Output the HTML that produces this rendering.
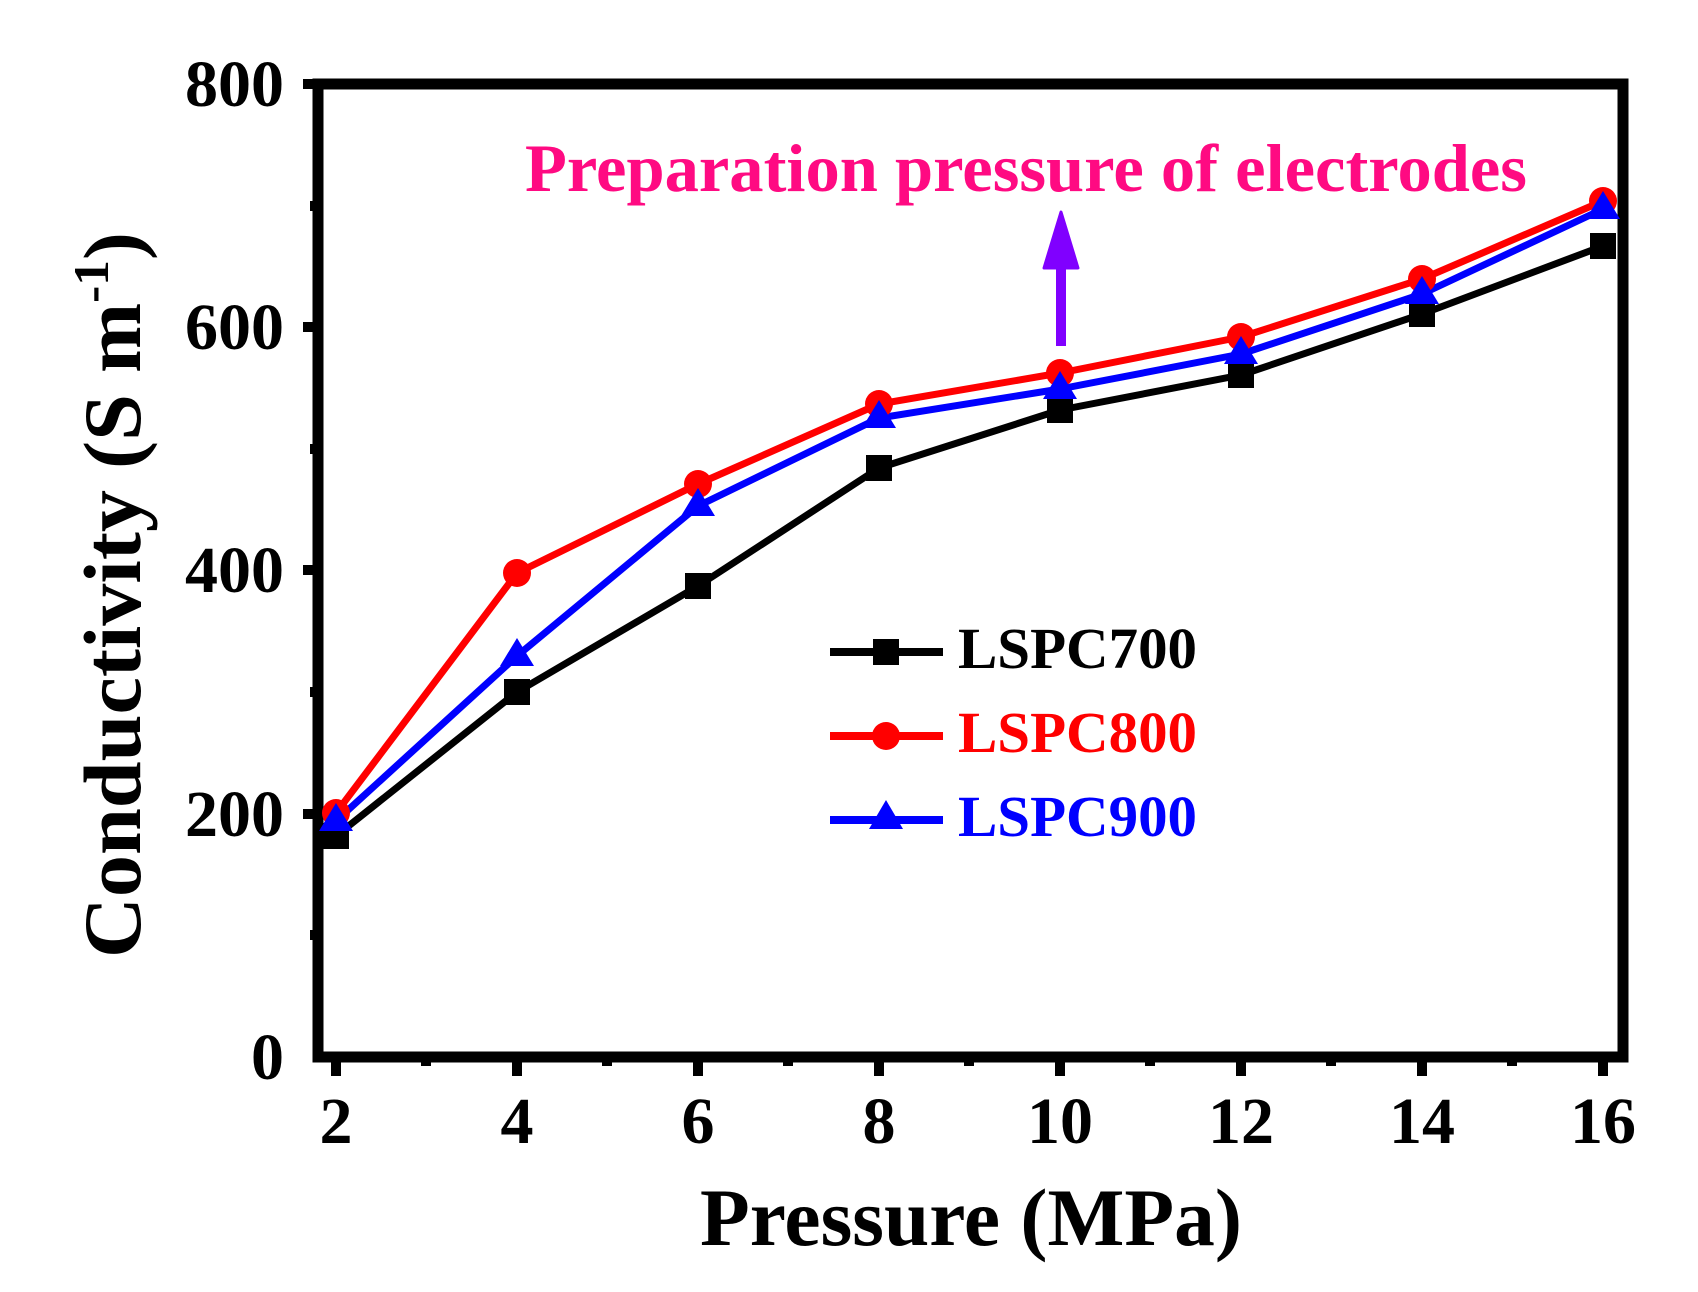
<!DOCTYPE html>
<html><head><meta charset="utf-8"><style>html,body{margin:0;padding:0;background:#fff}svg{display:block}</style></head>
<body>
<svg width="1698" height="1292" viewBox="0 0 1698 1292" xmlns="http://www.w3.org/2000/svg" font-family="Liberation Serif, serif" font-weight="bold">
<rect width="1698" height="1292" fill="#fff"/>
<g stroke="#000" stroke-width="10">
<line x1="303" y1="84" x2="318" y2="84"/><line x1="303" y1="327" x2="318" y2="327"/><line x1="303" y1="570" x2="318" y2="570"/><line x1="303" y1="814" x2="318" y2="814"/>
<line x1="310" y1="206" x2="318" y2="206"/><line x1="310" y1="449" x2="318" y2="449"/><line x1="310" y1="692" x2="318" y2="692"/><line x1="310" y1="935" x2="318" y2="935"/>
<line x1="336" y1="1057" x2="336" y2="1076"/><line x1="517" y1="1057" x2="517" y2="1076"/><line x1="698" y1="1057" x2="698" y2="1076"/><line x1="879" y1="1057" x2="879" y2="1076"/><line x1="1060" y1="1057" x2="1060" y2="1076"/><line x1="1241" y1="1057" x2="1241" y2="1076"/><line x1="1422" y1="1057" x2="1422" y2="1076"/><line x1="1603" y1="1057" x2="1603" y2="1076"/>
<line x1="426" y1="1057" x2="426" y2="1066"/><line x1="607" y1="1057" x2="607" y2="1066"/><line x1="788" y1="1057" x2="788" y2="1066"/><line x1="969" y1="1057" x2="969" y2="1066"/><line x1="1150" y1="1057" x2="1150" y2="1066"/><line x1="1331" y1="1057" x2="1331" y2="1066"/><line x1="1512" y1="1057" x2="1512" y2="1066"/>
</g>
<rect x="318" y="84" width="1305" height="973" fill="none" stroke="#000" stroke-width="11"/>
<g font-size="66" text-anchor="end" fill="#000">
<text x="284" y="106">800</text><text x="284" y="349">600</text><text x="284" y="592">400</text><text x="284" y="836">200</text><text x="284" y="1079">0</text>
</g>
<g font-size="66" text-anchor="middle" fill="#000">
<text x="336" y="1143">2</text><text x="517" y="1143">4</text><text x="698" y="1143">6</text><text x="879" y="1143">8</text><text x="1060" y="1143">10</text><text x="1241" y="1143">12</text><text x="1422" y="1143">14</text><text x="1603" y="1143">16</text>
</g>
<text x="700" y="1245" font-size="82" textLength="542" lengthAdjust="spacingAndGlyphs">Pressure (MPa)</text>
<text transform="translate(140,958) rotate(-90)" font-size="82" textLength="726" lengthAdjust="spacingAndGlyphs">Conductivity  (S m<tspan font-size="50" dy="-32">-1</tspan><tspan dy="32">)</tspan></text>
<text x="525" y="191" font-size="68" fill="#ff0a82" textLength="1002" lengthAdjust="spacingAndGlyphs">Preparation pressure of electrodes</text>
<rect x="1056" y="262" width="10" height="84" fill="#8000ff"/>
<path d="M1061 212 L1078 268 L1044 268 Z" fill="#8000ff" stroke="#8000ff" stroke-width="3" stroke-linejoin="round"/>
<g fill="none" stroke-width="7" stroke-linejoin="round">
<polyline stroke="#000" points="336,836 517,692 698,586 879,468 1060,410 1241,375 1422,314 1603,246"/>
<polyline stroke="#ff0000" points="336,813 517,573 698,484 879,404 1060,373 1241,337 1422,279 1603,201"/>
<polyline stroke="#0000ff" points="336,821 517,656 698,506 879,418 1060,389 1241,354 1422,294 1603,209"/>
</g>
<g fill="#000">
<rect x="323" y="823" width="26" height="26"/><rect x="504" y="679" width="26" height="26"/><rect x="685" y="573" width="26" height="26"/><rect x="866" y="455" width="26" height="26"/><rect x="1047" y="397" width="26" height="26"/><rect x="1228" y="362" width="26" height="26"/><rect x="1409" y="301" width="26" height="26"/><rect x="1590" y="233" width="26" height="26"/>
</g>
<g fill="#ff0000">
<circle cx="336" cy="813" r="14"/><circle cx="517" cy="573" r="14"/><circle cx="698" cy="484" r="14"/><circle cx="879" cy="404" r="14"/><circle cx="1060" cy="373" r="14"/><circle cx="1241" cy="337" r="14"/><circle cx="1422" cy="279" r="14"/><circle cx="1603" cy="201" r="14"/>
</g>
<g fill="#0000ff">
<path d="M336 803 l17 28 h-34z"/><path d="M517 638 l17 28 h-34z"/><path d="M698 488 l17 28 h-34z"/><path d="M879 400 l17 28 h-34z"/><path d="M1060 371 l17 28 h-34z"/><path d="M1241 336 l17 28 h-34z"/><path d="M1422 276 l17 28 h-34z"/><path d="M1603 191 l17 28 h-34z"/>
</g>
<g stroke-width="8">
<line x1="830" y1="652" x2="943" y2="652" stroke="#000"/>
<line x1="830" y1="736" x2="943" y2="736" stroke="#ff0000"/>
<line x1="830" y1="820" x2="943" y2="820" stroke="#0000ff"/>
</g>
<rect x="873" y="639" width="26" height="26" fill="#000"/>
<circle cx="886" cy="736" r="14" fill="#ff0000"/>
<path d="M886 800 l17 29 h-34z" fill="#0000ff"/>
<g font-size="58">
<text x="958" y="668" fill="#000" textLength="239" lengthAdjust="spacingAndGlyphs">LSPC700</text>
<text x="958" y="752" fill="#ff0000" textLength="239" lengthAdjust="spacingAndGlyphs">LSPC800</text>
<text x="958" y="836" fill="#0000ff" textLength="239" lengthAdjust="spacingAndGlyphs">LSPC900</text>
</g>
</svg>
</body></html>
